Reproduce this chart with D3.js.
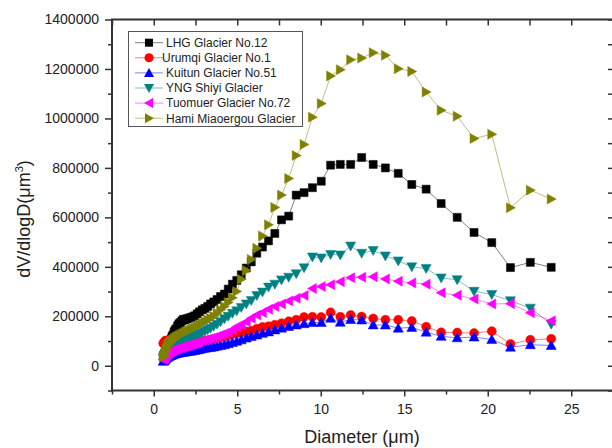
<!DOCTYPE html>
<html>
<head>
<meta charset="utf-8">
<script src="https://cdn.jsdelivr.net/npm/d3@7"></script>
<style>
    body { margin: 0; background: #fff; }
    svg { font-family: Arial, "Liberation Sans", sans-serif; }
</style>
</head>
<body>
<div id="chart"></div>
<script>

// particle size bins (um), shared by all six glaciers
var diameters = [0.57, 0.60, 0.64, 0.67, 0.71, 0.75, 0.79, 0.84, 0.88, 0.93, 0.98, 1.04,
    1.09, 1.15, 1.22, 1.29, 1.36, 1.43, 1.51, 1.60, 1.69, 1.78,
    1.88, 1.98, 2.09, 2.21, 2.33, 2.46, 2.60, 2.74, 2.90, 3.06,
    3.23, 3.40, 3.59, 3.79, 4.00, 4.23, 4.46, 4.71, 4.97, 5.24,
    5.54, 5.84, 6.17, 6.51, 6.87, 7.25, 7.65, 8.08, 8.53, 9.00,
    9.50, 10.03, 10.59, 11.17, 11.79, 12.45, 13.14, 13.87, 14.64, 15.45,
    16.31, 17.21, 18.17, 19.18, 20.24, 21.36, 22.55, 23.80];

var lhg = [40000, 42000, 45000, 50000, 55000, 60000, 66000, 72000, 80000, 88000, 98000, 108000,
    118000, 125000, 138000, 146000, 150000, 162000, 170000, 175000, 182000, 188000,
    185000, 190000, 192000, 195000, 198000, 202000, 210000, 218000, 226000, 232000,
    240000, 250000, 258000, 268000, 280000, 290000, 310000, 330000, 345000, 368000,
    395000, 420000, 455000, 480000, 505000, 535000, 590000, 605000, 690000, 700000,
    720000, 746000, 811000, 814000, 814000, 842000, 814000, 800000, 778000, 733000,
    714000, 656000, 600000, 539000, 498000, 397000, 418000, 398000];

var urumqi = [90000, 92000, 95000, 100000, 102000, 98000, 100000, 96000, 100000, 95000, 98000, 92000,
    88000, 82000, 78000, 74000, 72000, 73000, 74000, 76000, 78000, 80000,
    82000, 85000, 87000, 89000, 91000, 93000, 95000, 97000, 99000, 101000,
    103000, 105000, 108000, 111000, 115000, 118000, 122000, 128000, 132000, 134000,
    138000, 142000, 150000, 157000, 160000, 166000, 172000, 180000, 186000, 197000,
    198000, 197000, 216000, 198000, 205000, 199000, 191000, 186000, 186000, 181000,
    158000, 135000, 134000, 132000, 140000, 88000, 105000, 109000];

var kuitun = [18000, 20000, 22000, 25000, 28000, 31000, 33000, 35000, 37000, 39000, 40000, 42000,
    44000, 45000, 47000, 49000, 50000, 51000, 52000, 53000, 54000, 55000,
    56000, 57000, 58000, 59000, 61000, 62000, 64000, 66000, 69000, 71000,
    73000, 74000, 76000, 79000, 82000, 85000, 89000, 94000, 99000, 105000,
    112000, 118000, 124000, 131000, 137000, 145000, 152000, 159000, 165000, 170000,
    175000, 175000, 192000, 176000, 187000, 185000, 165000, 165000, 152000, 155000,
    136000, 119000, 113000, 116000, 106000, 75000, 85000, 82000];

var yng = [30000, 34000, 38000, 44000, 50000, 55000, 60000, 64000, 68000, 71000, 74000, 77000,
    80000, 83000, 86000, 89000, 92000, 95000, 98000, 102000, 104000, 107000,
    110000, 112000, 114000, 116000, 118000, 120000, 123000, 128000, 134000, 140000,
    146000, 152000, 160000, 168000, 178000, 190000, 200000, 212000, 222000, 236000,
    250000, 264000, 284000, 298000, 318000, 330000, 347000, 358000, 372000, 396000,
    440000, 436000, 450000, 448000, 484000, 455000, 466000, 444000, 424000, 400000,
    393000, 355000, 348000, 301000, 288000, 263000, 233000, 168000];

var tuomuer = [25000, 28000, 30000, 34000, 38000, 42000, 45000, 48000, 50000, 53000, 55000, 58000,
    60000, 62000, 64000, 66000, 68000, 70000, 72000, 73000, 75000, 77000,
    79000, 81000, 83000, 85000, 88000, 90000, 93000, 96000, 100000, 104000,
    107000, 110000, 114000, 118000, 124000, 130000, 136000, 145000, 158000, 165000,
    178000, 192000, 205000, 215000, 228000, 240000, 250000, 262000, 273000, 284000,
    312000, 320000, 328000, 340000, 356000, 358000, 360000, 351000, 342000, 335000,
    330000, 295000, 285000, 270000, 250000, 251000, 214000, 182000];

var hami = [35000, 38000, 40000, 50000, 60000, 68000, 75000, 82000, 86000, 90000, 94000, 98000,
    102000, 105000, 110000, 112000, 116000, 118000, 122000, 125000, 128000, 131000,
    135000, 138000, 142000, 146000, 150000, 155000, 160000, 166000, 172000, 178000,
    185000, 192000, 200000, 212000, 226000, 240000, 256000, 275000, 300000, 350000,
    385000, 430000, 475000, 525000, 570000, 640000, 690000, 757000, 850000, 895000,
    1005000, 1060000, 1172000, 1197000, 1237000, 1244000, 1266000, 1255000, 1201000, 1190000,
    1107000, 1033000, 1009000, 919000, 936000, 639000, 710000, 674000];

var seriesNames = ["LHG Glacier No.12", "Urumqi Glacier No.1", "Kuitun Glacier No.51",
    "YNG Shiyi Glacier", "Tuomuer Glacier No.72", "Hami Miaoergou Glacier"];
var seriesValues = [lhg, urumqi, kuitun, yng, tuomuer, hami];
var seriesColors = ["#000000", "#ff0000", "#0000ff", "#008080", "#ff00ff", "#808000"];
var seriesShapes = ["square", "circle", "up", "down", "left", "right"];

var xTicks = [0, 5, 10, 15, 20, 25];
var xMinor = [-2.5, 2.5, 7.5, 12.5, 17.5, 22.5, 27.5];
var yTicks = [0, 200000, 400000, 600000, 800000, 1000000, 1200000, 1400000];
var yMinor = [-100000, 100000, 300000, 500000, 700000, 900000, 1100000, 1300000];

var width = 612, height = 448;
var margin = { left: 112, right: 613, top: 19.5, bottom: 390.5 };
var svg, x, y;

function init() {
    setChart();
    drawAxes();
    drawSeries();
    drawLegend();
}

function setChart() {
    svg = d3.select("#chart").append("svg")
        .attr("width", width)
        .attr("height", height);

    x = d3.scaleLinear().domain([-2.5, 27.5]).range([margin.left, margin.right]);
    y = d3.scaleLinear().domain([-100000, 1400000]).range([margin.bottom, margin.top]);
}

function drawAxes() {
    var axisColor = "#333";

    // bottom: labelled ticks outside, minor ticks shorter
    svg.append("g")
        .attr("transform", "translate(0," + margin.bottom + ")")
        .call(d3.axisBottom(x).tickValues(xTicks).tickSize(6).tickPadding(8).tickSizeOuter(0));
    svg.append("g")
        .attr("transform", "translate(0," + margin.bottom + ")")
        .call(d3.axisBottom(x).tickValues(xMinor).tickSize(4).tickFormat("").tickSizeOuter(0));

    // left
    svg.append("g")
        .attr("transform", "translate(" + margin.left + ",0)")
        .call(d3.axisLeft(y).tickValues(yTicks).tickSize(7).tickPadding(6).tickFormat(d3.format("d")).tickSizeOuter(0));
    svg.append("g")
        .attr("transform", "translate(" + margin.left + ",0)")
        .call(d3.axisLeft(y).tickValues(yMinor).tickSize(4).tickFormat("").tickSizeOuter(0));

    // top and right mirror axes, ticks pointing inward
    svg.append("g")
        .attr("transform", "translate(0," + margin.top + ")")
        .call(d3.axisBottom(x).tickValues(xTicks.concat(xMinor)).tickSize(6).tickFormat("").tickSizeOuter(0));
    svg.append("g")
        .attr("transform", "translate(" + margin.right + ",0)")
        .call(d3.axisLeft(y).tickValues(yTicks.concat(yMinor)).tickSize(5).tickFormat("").tickSizeOuter(0));

    svg.selectAll(".domain").remove();
    svg.selectAll(".tick line").attr("stroke", axisColor).attr("stroke-width", 1.5);
    svg.selectAll(".tick text").attr("fill", "#222").style("font-size", "14px")
        .style("font-family", "Arial, 'Liberation Sans', sans-serif");

    svg.append("rect")   // frame of the plot
        .attr("x", margin.left)
        .attr("y", margin.top)
        .attr("width", margin.right - margin.left)
        .attr("height", margin.bottom - margin.top)
        .attr("fill", "none")
        .attr("stroke", axisColor)
        .attr("stroke-width", 2);

    svg.append("text")
        .attr("x", (margin.left + 612) / 2)
        .attr("y", 443)
        .attr("text-anchor", "middle")
        .style("font-size", "18px")
        .attr("fill", "#222")
        .text("Diameter (\u03bcm)");

    var yl = svg.append("text")
        .attr("transform", "translate(30,219) rotate(-90)")
        .attr("text-anchor", "middle")
        .style("font-size", "18px")
        .attr("fill", "#222");
    yl.append("tspan").text("dV/dlogD(\u03bcm");
    yl.append("tspan").attr("dy", "-7").style("font-size", "11px").text("3");
    yl.append("tspan").attr("dy", "7").text(")");
}

function markerPath(shape) {
    if (shape == "square") return "M-4,-4H4V4H-4Z";
    if (shape == "circle") return d3.symbol(d3.symbolCircle, 64)();
    if (shape == "up") return "M0,-5L5,4L-5,4Z";
    if (shape == "down") return "M-5,-4L5,-4L0,5Z";
    if (shape == "left") return "M-5,0L4,-5L4,5Z";
    return "M5,0L-4,-5L-4,5Z";   // right
}

function drawSeries() {
    var line = d3.line()
        .x(function (d) { return x(d[0]); })
        .y(function (d) { return y(d[1]); });

    seriesValues.forEach(function (vals, i) {
        var pts = diameters.map(function (dm, j) { return [dm, vals[j]]; });
        var g = svg.append("g").attr("class", "series");

        g.append("path")
            .datum(pts)
            .attr("d", line)
            .attr("fill", "none")
            .attr("stroke", seriesColors[i])
            .attr("stroke-opacity", 0.5)
            .attr("stroke-width", 1);

        g.selectAll(".mark")
            .data(pts)
            .join("path")
            .attr("class", "mark")
            .attr("d", markerPath(seriesShapes[i]))
            .attr("transform", function (d) { return "translate(" + x(d[0]) + "," + y(d[1]) + ")"; })
            .attr("fill", seriesColors[i])
            .attr("stroke", seriesColors[i])
            .attr("stroke-width", 0.5);
    });
}

function drawLegend() {
    var lx = 128.5, ly = 31.5, rowH = 15.1;

    svg.append("rect")
        .attr("x", lx)
        .attr("y", ly)
        .attr("width", 174)
        .attr("height", 95)
        .attr("fill", "#fff")
        .attr("stroke", "#555")
        .attr("stroke-width", 1);

    var legend = svg.selectAll("g.legendEntry")
        .data(seriesNames)
        .enter()
        .append("g")
        .attr("class", "legendEntry")
        .attr("transform", function (d, i) { return "translate(0," + (42.7 + i * rowH) + ")"; });

    legend.append("line")
        .attr("x1", 135).attr("x2", 163)
        .attr("stroke", function (d, i) { return seriesColors[i]; })
        .attr("stroke-opacity", 0.5);

    legend.append("path")
        .attr("d", function (d, i) { return markerPath(seriesShapes[i]); })
        .attr("transform", "translate(149,0)")
        .attr("fill", function (d, i) { return seriesColors[i]; });

    legend.append("text")
        .attr("x", function (d, i) { return i == 1 ? 162 : 166; })
        .attr("dy", "0.36em")
        .style("font-size", "12px")
        .attr("fill", "#222")
        .text(function (d) { return d; });
}

window.onload = init;

</script>
</body>
</html>
